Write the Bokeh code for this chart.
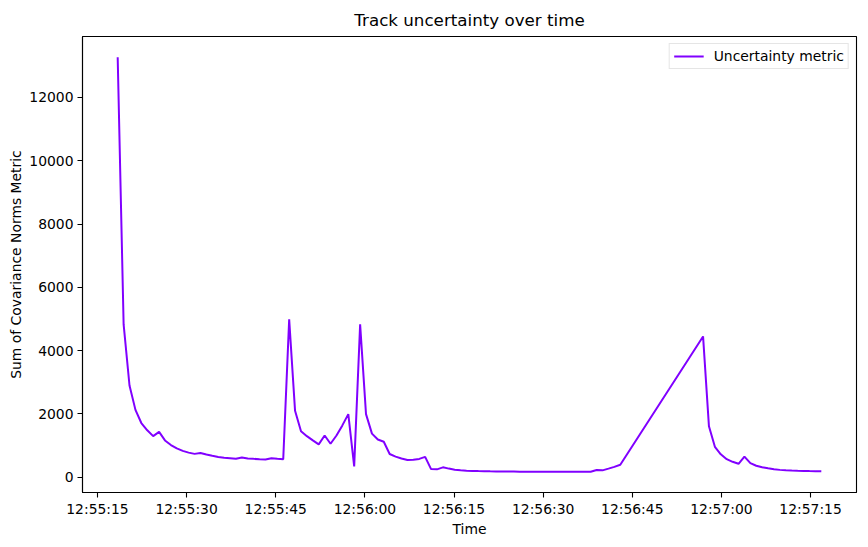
import pandas as pd
from bokeh.plotting import figure
from bokeh.models import Range1d, FixedTicker, DatetimeTickFormatter, Legend, LegendItem
from bokeh.embed import file_html
from bokeh.resources import INLINE

# seconds after 12:55:00 for each sample
seconds = [
    18.40, 19.40, 20.39, 21.39, 22.38, 23.38, 24.37, 25.37, 26.36, 27.36,
    28.35, 29.35, 30.34, 31.34, 32.33, 33.33, 34.32, 35.32, 36.31, 37.31,
    38.30, 39.30, 40.29, 41.29, 42.28, 43.28, 44.27, 45.27, 46.26, 47.26,
    48.25, 49.25, 50.24, 51.24, 52.23, 53.23, 54.22, 55.22, 56.21, 57.21,
    58.20, 59.20, 60.19, 61.19, 62.18, 63.18, 64.17, 65.17, 66.16, 67.16,
    68.15, 69.15, 70.14, 71.14, 72.13, 73.13, 74.12, 75.12, 76.11, 77.11,
    78.10, 79.10, 80.09, 81.09, 82.08, 83.08, 84.07, 85.07, 86.06, 87.06,
    88.05, 89.05, 90.04, 91.04, 92.03, 93.03, 94.02, 95.02, 96.01, 97.01,
    98.00, 99.00, 99.99, 100.99, 101.98, 102.98,
    116.91, 117.90, 118.90, 119.89, 120.89, 121.88, 122.88, 123.87, 124.87,
    125.86, 126.86, 127.85, 128.85, 129.84, 130.84, 131.83, 132.83, 133.82,
    134.82, 135.81, 136.81,
]

uncertainty = [
    13270, 4830, 2900, 2130, 1715, 1485, 1300, 1435, 1165, 1020,
    915, 835, 780, 740, 770, 720, 680, 645, 620, 603,
    585, 625, 595, 583, 572, 563, 603, 583, 572, 4990,
    2100, 1455, 1300, 1165, 1040, 1320, 1060, 1320, 1640, 1995,
    345, 4830, 1995, 1380, 1195, 1125, 735, 655, 595, 545,
    552, 582, 645, 260, 252, 315, 275, 240, 222, 210,
    202, 196, 192, 188, 185, 183, 181, 180, 179, 178,
    177, 177, 176, 176, 175, 175, 175, 175, 175, 175,
    175, 230, 220, 275, 330, 395,
    4450, 1610, 965, 728, 572, 490, 428, 655, 447,
    365, 315, 283, 255, 235, 222, 212, 205, 200,
    196, 193, 190,
]

x_tick_labels = ["12:55:15", "12:55:30", "12:55:45", "12:56:00", "12:56:15",
                 "12:56:30", "12:56:45", "12:57:00", "12:57:15"]
y_ticks = [0, 2000, 4000, 6000, 8000, 10000, 12000]

DAY = "2024-01-01 "
base = pd.Timestamp(DAY + "12:55:00")
times = [base + pd.Timedelta(seconds=s) for s in seconds]

FONT = "DejaVu Sans"
LINE_COLOR = "#8000ff"

def to_ms(ts):
    return ts.value / 1e6

tmin, tmax = min(times), max(times)
tspan = tmax - tmin
ymin, ymax = min(uncertainty), max(uncertainty)
yspan = ymax - ymin

p = figure(width=860, height=539, x_axis_type="datetime",
           output_backend="svg", toolbar_location=None,
           x_range=Range1d(tmin - tspan * 0.05, tmax + tspan * 0.05),
           y_range=Range1d(ymin - yspan * 0.05, ymax + yspan * 0.05),
           min_border_left=82, min_border_right=4, min_border_top=36,
           min_border_bottom=41)

p.title.text = "Track uncertainty over time"
p.title.align = "center"
p.title.text_font = FONT
p.title.text_font_size = "16.7px"
p.title.text_font_style = "normal"
p.title.text_color = "black"
p.title.standoff = 13

r = p.line(times, uncertainty, line_color=LINE_COLOR, line_width=2)

p.xgrid.visible = False
p.ygrid.visible = False
p.outline_line_color = "black"
p.outline_line_width = 1.1
p.background_fill_color = "white"
p.border_fill_color = "white"

tick_ms = [to_ms(pd.Timestamp(DAY + s)) for s in x_tick_labels]
p.xaxis.ticker = FixedTicker(ticks=tick_ms)
fmt = "%H:%M:%S"
p.xaxis.formatter = DatetimeTickFormatter(
    microseconds=fmt, milliseconds=fmt, seconds=fmt, minsec=fmt,
    minutes=fmt, hourmin=fmt, hours=fmt, days=fmt, months=fmt, years=fmt)
p.yaxis.ticker = FixedTicker(ticks=y_ticks)

p.xaxis.axis_label = "Time"
p.yaxis.axis_label = "Sum of Covariance Norms Metric"

for ax in (p.xaxis, p.yaxis):
    ax.axis_line_color = "black"
    ax.axis_line_width = 1.1
    ax.major_tick_line_color = "black"
    ax.major_tick_line_width = 1.1
    ax.major_tick_in = 0
    ax.major_tick_out = 5
    ax.minor_tick_line_color = None
    ax.major_label_text_font = FONT
    ax.major_label_text_font_size = "13.9px"
    ax.major_label_text_color = "black"
    ax.major_label_standoff = 4
    ax.axis_label_text_font = FONT
    ax.axis_label_text_font_size = "13.9px"
    ax.axis_label_text_font_style = "normal"
    ax.axis_label_text_color = "black"
p.xaxis.major_label_standoff = 3
p.xaxis.axis_label_standoff = 1
p.yaxis.axis_label_standoff = 2

legend = Legend(items=[LegendItem(label="Uncertainty metric", renderers=[r])],
                location="top_right")
legend.label_text_font = FONT
legend.label_text_font_size = "13.9px"
legend.label_text_color = "black"
legend.border_line_color = "#cccccc"
legend.border_line_width = 1
legend.background_fill_alpha = 0.8
legend.margin = 7
legend.padding = 4
legend.glyph_width = 30
legend.glyph_height = 16
legend.label_standoff = 10
legend.label_height = 16
p.add_layout(legend)

open("out.html", "w").write(file_html(p, INLINE))
